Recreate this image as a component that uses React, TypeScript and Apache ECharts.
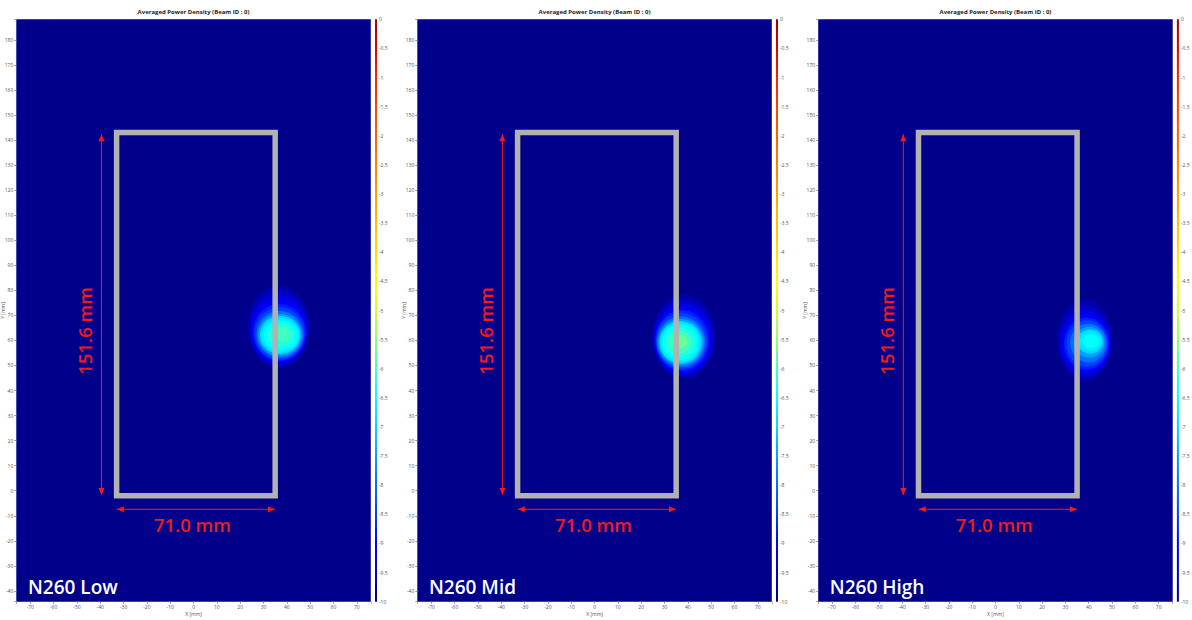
import React, { useEffect, useRef } from 'react';
import * as echarts from 'echarts';

// ---------- data ----------
const TITLE = 'Averaged Power Density (Beam ID : 0)';
const PANEL_NAMES = ['N260 Low', 'N260 Mid', 'N260 High'];
const X_MIN = -76;
const X_MAX = 76;
const Y_MIN = -44.3;
const Y_MAX = 188.2;
const CBAR_MIN = -10;
const CBAR_MAX = 0;

// colour map, from -10 dB (first) to 0 dB (last), one colour every 0.5 dB
const COLORMAP = [
  '#00008b', '#0000c8', '#0000ff', '#0040ff', '#0070ff', '#00a0ff', '#00d8ff',
  '#00ffff', '#40ffc0', '#90ff70', '#d0ff30', '#ffff00', '#ffe000', '#ffc000',
  '#ffa000', '#ff8000', '#ff6000', '#ff4000', '#ff2000', '#e00000', '#a00000',
];

// device outline [x0, y0, x1, y1] in mm
const OUTLINE = [[-33, -2, 35, 143]];
// dimension arrows [x0, y0, x1, y1] in mm
const ARROWS = [
  [-39.5, -1.7, -39.5, 142.3],
  [-32.9, -7.4, 34.9, -7.4],
];
const DIM_TEXTS = ['151.6 mm', '71.0 mm'];
// [x, y, rotation in degrees]
const DIM_POS = [
  [-46.9, 63.8, 90],
  [-0.5, -13.4, 0],
];
const PANEL_LABEL_POS = [[-71, -38.4]];

// hot-spot contour levels [cx, cy, rx, ry, dB]
const BLOB_LOW = [
  [36.5, 65.5, 13.3, 16.5, -9.75],
  [36.5, 65.0, 12.7, 15.0, -9.5],
  [36.6, 64.3, 12.2, 13.6, -9.25],
  [36.7, 63.7, 11.7, 12.4, -9.0],
  [36.8, 63.2, 11.2, 11.3, -8.75],
  [36.9, 62.8, 10.7, 10.4, -8.5],
  [37.0, 62.5, 10.0, 9.3, -8.0],
  [37.0, 62.3, 9.3, 8.4, -7.5],
  [37.1, 62.2, 8.7, 7.6, -7.0],
  [37.2, 62.1, 8.1, 6.9, -6.75],
  [37.4, 62.0, 7.2, 6.0, -6.5],
  [37.6, 62.2, 5.8, 4.8, -6.25],
  [38.0, 62.5, 3.6, 3.0, -6.0],
];
const BLOB_MID = [
  [38.3, 61.5, 13.5, 16.8, -9.75],
  [38.1, 61.0, 12.9, 15.4, -9.5],
  [37.9, 60.6, 12.4, 14.2, -9.25],
  [37.7, 60.3, 11.9, 13.1, -9.0],
  [37.5, 60.0, 11.4, 12.1, -8.75],
  [37.3, 59.8, 10.9, 11.2, -8.5],
  [37.1, 59.5, 10.3, 10.1, -8.0],
  [37.0, 59.4, 9.7, 9.2, -7.5],
  [36.9, 59.3, 9.1, 8.5, -7.0],
  [36.8, 59.3, 8.5, 7.9, -6.75],
  [36.7, 59.3, 7.7, 7.1, -6.5],
  [36.7, 59.3, 6.5, 6.0, -6.25],
  [36.8, 59.4, 4.8, 4.5, -6.0],
  [37.0, 59.5, 2.8, 2.6, -5.75],
];
const BLOB_HIGH = [
  [38.3, 60.0, 12.0, 16.5, -9.75],
  [38.4, 59.6, 11.2, 14.5, -9.5],
  [38.6, 59.2, 10.6, 12.8, -9.25],
  [38.8, 59.0, 10.0, 11.5, -9.0],
  [39.0, 58.8, 9.5, 10.4, -8.75],
  [39.3, 58.8, 8.8, 9.3, -8.5],
  [39.8, 59.0, 7.8, 7.8, -8.0],
  [40.2, 59.3, 6.6, 6.2, -7.5],
  [40.6, 59.6, 5.5, 4.9, -7.0],
  [40.8, 59.8, 4.6, 3.9, -6.75],
  [40.9, 59.8, 3.4, 2.8, -6.5],
];
const BLOBS = [BLOB_LOW, BLOB_MID, BLOB_HIGH];

// ---------- layout / style ----------
const GRID_LEFTS = [16.3, 417.3, 818.2];
const GRID_TOP = 19.3;
const GRID_W = 354.5;
const GRID_H = 582.4;
const CBAR_DX = 358.7;
const BG = COLORMAP[0];
const RED = '#f21a1a';
const FONT = 'Open Sans';

function buildOption() {
  const grid: any[] = [];
  const xAxis: any[] = [];
  const yAxis: any[] = [];
  const series: any[] = [];
  const title: any[] = [];
  const blobSeriesIdx: number[] = [];

  const tenFmt = (v: number) => (Math.abs(v % 10) < 1e-6 ? String(Math.round(v)) : '');
  const small = { fontSize: 5, color: '#555', fontFamily: FONT };

  PANEL_NAMES.forEach((name, i) => {
    const left = GRID_LEFTS[i];
    const gMain = 2 * i;
    const gBar = 2 * i + 1;
    grid.push({
      left, top: GRID_TOP, width: GRID_W, height: GRID_H, show: true, backgroundColor: BG, borderWidth: 0,
      containLabel: false, outerBoundsMode: 'none',
    });
    grid.push({
      left: left + CBAR_DX, top: GRID_TOP, width: 2, height: GRID_H, show: false,
      containLabel: false, outerBoundsMode: 'none',
    });

    title.push({
      text: TITLE, left: left + GRID_W / 2, top: 8.5, textAlign: 'center', padding: 0,
      textStyle: { fontSize: 6, fontWeight: 'bold', color: '#222', fontFamily: FONT },
    });

    xAxis.push({
      gridIndex: gMain, type: 'value', min: X_MIN, max: X_MAX, splitNumber: 15, position: 'bottom',
      name: 'X [mm]', nameLocation: 'middle', nameGap: 10, nameMoveOverlap: false, nameTextStyle: small,
      axisLine: { show: false, onZero: false }, splitLine: { show: false },
      axisTick: { show: true, length: 2, lineStyle: { color: '#999' } },
      axisLabel: { ...small, margin: 3, formatter: tenFmt },
    });
    yAxis.push({
      gridIndex: gMain, type: 'value', min: Y_MIN, max: Y_MAX, splitNumber: 23, position: 'left',
      name: 'Y [mm]', nameLocation: 'middle', nameGap: 11, nameMoveOverlap: false, nameTextStyle: small,
      axisLine: { show: false, onZero: false }, splitLine: { show: false },
      axisTick: { show: true, length: 2, lineStyle: { color: '#999' } },
      axisLabel: { ...small, margin: 3, formatter: tenFmt },
    });
    xAxis.push({ gridIndex: gBar, type: 'value', min: 0, max: 1, show: false });
    yAxis.push({
      gridIndex: gBar, type: 'value', min: CBAR_MIN, max: CBAR_MAX, interval: 0.5, position: 'right',
      axisLine: { show: false, onZero: false }, splitLine: { show: false }, axisTick: { show: false },
      axisLabel: { ...small, margin: 2, formatter: (v: number) => String(v) },
    });

    // hot spot
    blobSeriesIdx.push(series.length);
    series.push({
      type: 'custom', xAxisIndex: gMain, yAxisIndex: gMain, silent: true,
      data: BLOBS[i],
      renderItem: (params: any, api: any) => {
        const c = api.coord([api.value(0), api.value(1)]);
        const s = api.size([api.value(2), api.value(3)]);
        return { type: 'ellipse', shape: { cx: c[0], cy: c[1], rx: s[0], ry: s[1] }, style: { fill: api.visual('color') } };
      },
    });
    // outline
    series.push({
      type: 'custom', xAxisIndex: gMain, yAxisIndex: gMain, silent: true,
      data: OUTLINE,
      renderItem: (params: any, api: any) => {
        const p0 = api.coord([api.value(0), api.value(3)]);
        const p1 = api.coord([api.value(2), api.value(1)]);
        return {
          type: 'rect', shape: { x: p0[0], y: p0[1], width: p1[0] - p0[0], height: p1[1] - p0[1] },
          style: { fill: 'none', stroke: '#b2b2b2', lineWidth: 5.5 },
        };
      },
    });
    // arrows
    series.push({
      type: 'custom', xAxisIndex: gMain, yAxisIndex: gMain, silent: true,
      data: ARROWS,
      renderItem: (params: any, api: any) => {
        const p0 = api.coord([api.value(0), api.value(1)]);
        const p1 = api.coord([api.value(2), api.value(3)]);
        const dx = p1[0] - p0[0];
        const dy = p1[1] - p0[1];
        const len = Math.hypot(dx, dy) || 1;
        const ux = dx / len, uy = dy / len, nx = -uy, ny = ux;
        const L = 7, W = 3;
        const head = (p: number[], s: number) => [
          [p[0], p[1]],
          [p[0] - s * ux * L + nx * W, p[1] - s * uy * L + ny * W],
          [p[0] - s * ux * L - nx * W, p[1] - s * uy * L - ny * W],
        ];
        return {
          type: 'group',
          children: [
            { type: 'line', shape: { x1: p0[0], y1: p0[1], x2: p1[0], y2: p1[1] }, style: { stroke: RED, lineWidth: 1 } },
            { type: 'polygon', shape: { points: head(p1, 1) }, style: { fill: RED } },
            { type: 'polygon', shape: { points: head(p0, -1) }, style: { fill: RED } },
          ],
        };
      },
    });
    // dimension texts
    series.push({
      type: 'custom', xAxisIndex: gMain, yAxisIndex: gMain, silent: true,
      data: DIM_POS,
      renderItem: (params: any, api: any) => {
        const c = api.coord([api.value(0), api.value(1)]);
        return {
          type: 'text', x: c[0], y: c[1], rotation: (api.value(2) * Math.PI) / 180,
          style: {
            text: DIM_TEXTS[params.dataIndex], fill: RED, fontSize: 18.5, fontWeight: 600, fontFamily: FONT,
            align: 'center', verticalAlign: 'middle',
          },
        };
      },
    });
    // panel name
    series.push({
      type: 'custom', xAxisIndex: gMain, yAxisIndex: gMain, silent: true,
      data: PANEL_LABEL_POS,
      renderItem: (params: any, api: any) => {
        const c = api.coord([api.value(0), api.value(1)]);
        return {
          type: 'text', x: c[0], y: c[1],
          style: { text: name, fill: '#ffffff', fontSize: 19, fontWeight: 600, fontFamily: FONT, align: 'left', verticalAlign: 'middle' },
        };
      },
    });
    // colour bar
    series.push({
      type: 'custom', xAxisIndex: gBar, yAxisIndex: gBar, silent: true,
      data: [[0, CBAR_MIN, 1, CBAR_MAX]],
      renderItem: (params: any, api: any) => {
        const p0 = api.coord([api.value(0), api.value(1)]);
        const p1 = api.coord([api.value(2), api.value(3)]);
        const stops = COLORMAP.map((color, k) => ({ offset: k / (COLORMAP.length - 1), color }));
        return {
          type: 'rect', shape: { x: p0[0], y: p1[1], width: p1[0] - p0[0], height: p0[1] - p1[1] },
          style: { fill: new echarts.graphic.LinearGradient(0, 1, 0, 0, stops) },
        };
      },
    });
  });

  return {
    animation: false,
    backgroundColor: '#ffffff',
    textStyle: { fontFamily: FONT },
    title,
    grid,
    xAxis,
    yAxis,
    visualMap: {
      type: 'continuous', show: false, min: CBAR_MIN, max: CBAR_MAX, dimension: 4,
      seriesIndex: blobSeriesIdx, inRange: { color: COLORMAP },
    },
    series,
  };
}

export default function App() {
  const ref = useRef<HTMLDivElement>(null);
  useEffect(() => {
    if (!ref.current) return;
    const chart = echarts.init(ref.current, undefined, { renderer: 'svg' });
    chart.setOption(buildOption() as any);
    return () => chart.dispose();
  }, []);
  return (
    <div
      ref={ref}
      style={{ position: 'absolute', left: 0, top: 0, width: 1192, height: 620, background: '#fff' }}
    />
  );
}
